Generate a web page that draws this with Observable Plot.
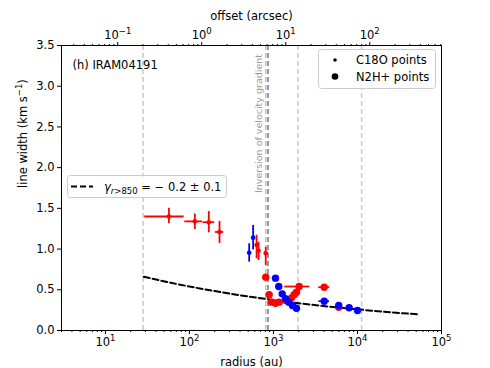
<!DOCTYPE html>
<html><head><meta charset="utf-8">
<script src="https://cdn.jsdelivr.net/npm/d3@7"></script>
<script src="https://cdn.jsdelivr.net/npm/@observablehq/plot@0.6"></script>
<style>
body{margin:0;background:#fff;font-family:"DejaVu Sans",sans-serif;}
#wrap{position:relative;width:490px;height:368px;overflow:hidden;}
#overlay{position:absolute;left:0;top:0;pointer-events:none;}
</style></head><body><div id="wrap"></div>
<script>
// ---- data ----
const panelTitle = "(h) IRAM04191";
const distancePc = 140;                       // offset (arcsec) = radius (au) / distance
const xTicksMajor = [10, 100, 1000, 10000, 100000];
const xTickLabels = ["10¹", "10²", "10³", "10⁴", "10⁵"];
const topTicksMajor = [0.1, 1, 10, 100];
const topTickLabels = ["10⁻¹", "10⁰", "10¹", "10²"];
const yTicks = [0, 0.5, 1, 1.5, 2, 2.5, 3, 3.5];

// C18O points (small markers)
const c18oRadius   = [57, 116, 170, 228, 514, 573, 630, 665, 809];
const c18oRadiusLo = [29.4, 88, 145, 204, 514, 573, 612, 650, 809];
const c18oRadiusHi = [86.5, 143, 200, 256, 514, 573, 648, 682, 809];
const c18oWidth    = [1.40, 1.34, 1.33, 1.21, 0.955, 1.14, 1.05, 0.98, 0.95];
const c18oWidthLo  = [1.31, 1.24, 1.20, 1.07, 0.84, 0.99, 0.88, 0.86, 0.80];
const c18oWidthHi  = [1.50, 1.43, 1.46, 1.34, 1.065, 1.29, 1.17, 1.085, 1.02];
const c18oSide     = ["red", "red", "red", "red", "blue", "blue", "red", "red", "red"];

// N2H+ points (large markers), redshifted side
const n2hRedRadius   = [809, 889, 947, 1057, 1169, 1400, 1637, 1763, 1878, 2022, 4018, 5980];
const n2hRedRadiusLo = [809, 889, 947, 1057, 1169, 1400, 1637, 1763, 1878, 1365, 3460, 5980];
const n2hRedRadiusHi = [809, 889, 947, 1057, 1169, 1400, 1637, 1763, 1878, 2710, 4680, 5980];
const n2hRedWidth    = [0.655, 0.44, 0.348, 0.335, 0.348, 0.368, 0.40, 0.44, 0.47, 0.54, 0.532, 0.286];
// N2H+ points, blueshifted side
const n2hBlueRadius   = [1057, 1156, 1270, 1390, 1521, 1683, 1878, 4018, 5980, 7960, 10000];
const n2hBlueRadiusLo = [1057, 1156, 1270, 1390, 1521, 1683, 1878, 3480, 5980, 7960, 10000];
const n2hBlueRadiusHi = [1057, 1156, 1270, 1390, 1521, 1683, 1878, 4650, 5980, 7960, 10000];
const n2hBlueWidth    = [0.643, 0.54, 0.45, 0.39, 0.348, 0.307, 0.274, 0.36, 0.307, 0.279, 0.246];

// fitted power law, gamma(r>850) = -0.2 +/- 0.1
const fitRadius = [28.6, 60, 100, 200, 400, 850, 2000, 5000, 10000, 20000, 51000];
const fitWidth  = [0.66, 0.586, 0.54, 0.484, 0.433, 0.385, 0.335, 0.29, 0.26, 0.231, 0.20];

// reference radii (vertical dashed lines)
const refRadius = [28, 1960, 11200];
const inversionRadius = [809];
const innerFitRadius = [860];

// ---- styles ----
const sideColor = {red: "#ff0000", blue: "#0000ff"};
const idx = a => a.map((_, i) => i);

const xMinor = [];
for (let k = 0; k <= 4; k++) for (let m = 2; m <= 9; m++) { const v = m * 10 ** k; if (v >= 3 && v <= 1e5) xMinor.push(v); }
const topTickValues = topTicksMajor.map(v => v * distancePc);
const topMinor = [];
for (let k = -2; k <= 2; k++) for (let m = 2; m <= 9; m++) { const v = m * 10 ** k * distancePc; if (v >= 3 && v <= 1e5) topMinor.push(v); }
const near = (arr, d) => arr.findIndex(v => Math.abs(v - d) / v < 1e-6);

const chart = Plot.plot({
  width: 490, height: 368,
  marginLeft: 61, marginRight: 49, marginTop: 45, marginBottom: 38,
  style: {fontFamily: "'DejaVu Sans', sans-serif", fontSize: "11.5px", color: "#000", background: "#fff", overflow: "visible"},
  x: {type: "log", domain: [3, 1e5]},
  y: {domain: [0, 3.5]},
  color: {type: "identity"},
  marks: [
    Plot.ruleX(refRadius, {x: d => d, stroke: "#c8c8c8", strokeWidth: 1.5, strokeDasharray: "5,3"}),
    Plot.ruleX(inversionRadius, {x: d => d, stroke: "#c0c0c0", strokeWidth: 1.5, strokeDasharray: "5,3"}),
    Plot.ruleX(innerFitRadius, {x: d => d, stroke: "#777", strokeWidth: 1.5, strokeDasharray: "5,3"}),
    Plot.line(idx(fitRadius), {x: i => fitRadius[i], y: i => fitWidth[i], stroke: "#000", strokeWidth: 2, strokeDasharray: "6,3", curve: "monotone-x"}),
    // C18O error bars + markers
    Plot.ruleY(idx(c18oRadius), {y: i => c18oWidth[i], x1: i => c18oRadiusLo[i], x2: i => c18oRadiusHi[i], stroke: i => sideColor[c18oSide[i]], strokeWidth: 1.8}),
    Plot.ruleX(idx(c18oRadius), {x: i => c18oRadius[i], y1: i => c18oWidthLo[i], y2: i => c18oWidthHi[i], stroke: i => sideColor[c18oSide[i]], strokeWidth: 1.8}),
    Plot.dot(idx(c18oRadius), {x: i => c18oRadius[i], y: i => c18oWidth[i], r: 2.3, fill: i => sideColor[c18oSide[i]], stroke: null}),
    // N2H+ red
    Plot.ruleY(idx(n2hRedRadius), {y: i => n2hRedWidth[i], x1: i => n2hRedRadiusLo[i], x2: i => n2hRedRadiusHi[i], stroke: sideColor.red, strokeWidth: 1.8}),
    Plot.dot(idx(n2hRedRadius), {x: i => n2hRedRadius[i], y: i => n2hRedWidth[i], r: 3.7, fill: sideColor.red, stroke: null}),
    // N2H+ blue
    Plot.ruleY(idx(n2hBlueRadius), {y: i => n2hBlueWidth[i], x1: i => n2hBlueRadiusLo[i], x2: i => n2hBlueRadiusHi[i], stroke: sideColor.blue, strokeWidth: 1.8}),
    Plot.dot(idx(n2hBlueRadius), {x: i => n2hBlueRadius[i], y: i => n2hBlueWidth[i], r: 3.7, fill: sideColor.blue, stroke: null}),
    Plot.frame({stroke: "#000", strokeWidth: 1}),
    // axes
    Plot.axisX({ticks: xTicksMajor, tickFormat: d => xTickLabels[near(xTicksMajor, d)], tickSize: 4, tickPadding: 3, label: null}),
    Plot.axisX({ticks: xMinor, tickFormat: () => "", tickSize: 2, label: null}),
    Plot.axisX({anchor: "top", ticks: topTickValues, tickFormat: d => topTickLabels[near(topTickValues, d)], tickSize: 4, tickPadding: 3, label: null}),
    Plot.axisX({anchor: "top", ticks: topMinor, tickFormat: () => "", tickSize: 2, label: null}),
    Plot.axisY({ticks: yTicks, tickFormat: d3.format(".1f"), tickSize: 4, tickPadding: 3, label: null}),
    // axis titles + panel title
    Plot.text(["radius (au)"], {frameAnchor: "bottom", text: d => d, dy: 27, lineAnchor: "top"}),
    Plot.text(["offset (arcsec)"], {frameAnchor: "top", text: d => d, dy: -26, lineAnchor: "bottom"}),
    Plot.text(["line width (km s⁻¹)"], {frameAnchor: "left", text: d => d, rotate: -90, dx: -38}),
    Plot.text([panelTitle], {frameAnchor: "top-left", text: d => d, dx: 11, dy: 20, textAnchor: "start", lineAnchor: "middle"})
  ]
});
const wrap = document.getElementById("wrap");
wrap.appendChild(chart);

// render unicode superscripts as raised, smaller text (matplotlib mathtext look)
const supMap = {"⁻": "−", "⁰": "0", "¹": "1", "²": "2", "³": "3", "⁴": "4", "⁵": "5"};
const supRe = /[⁻⁰¹²³⁴⁵]+/;
chart.querySelectorAll("text").forEach(t => {
  const s = t.textContent;
  const m = s.match(supRe);
  if (!m) return;
  const before = s.slice(0, m.index), sup = [...m[0]].map(c => supMap[c]).join(""), after = s.slice(m.index + m[0].length);
  while (t.firstChild) t.removeChild(t.firstChild);
  t.appendChild(document.createTextNode(before));
  const ts = document.createElementNS("http://www.w3.org/2000/svg", "tspan");
  ts.setAttribute("dy", "-5"); ts.setAttribute("font-size", "8.5"); ts.textContent = sup;
  t.appendChild(ts);
  if (after) {
    const ta = document.createElementNS("http://www.w3.org/2000/svg", "tspan");
    ta.setAttribute("dy", "5"); ta.textContent = after;
    t.appendChild(ta);
  }
});

// overlay: rotated annotation (positioned with the chart's x scale) and legends
const xs = chart.scale("x");
const invX = xs.apply(inversionRadius[0]) - 7;
const ns = "http://www.w3.org/2000/svg";
const ov = document.createElementNS(ns, "svg");
ov.setAttribute("id", "overlay"); ov.setAttribute("width", 490); ov.setAttribute("height", 368);
ov.innerHTML = `
<g font-family="DejaVu Sans, sans-serif" font-size="11.5">
  <text transform="translate(${invX},54) rotate(-90)" text-anchor="end" dominant-baseline="central" font-size="9.5" fill="#999">Inversion of velocity gradient</text>
  <rect x="318.5" y="49.5" width="117" height="39" rx="3" fill="#fff" fill-opacity="0.8" stroke="#cccccc"/>
  <circle cx="335" cy="60" r="1.8" fill="#000"/>
  <text x="356" y="64">C18O points</text>
  <circle cx="335" cy="76.5" r="3.3" fill="#000"/>
  <text x="356" y="80.5">N2H+ points</text>
  <rect x="67.5" y="175.5" width="159" height="22" rx="3" fill="#fff" fill-opacity="0.8" stroke="#cccccc"/>
  <line x1="71" y1="186.5" x2="93" y2="186.5" stroke="#000" stroke-width="2" stroke-dasharray="6,3"/>
  <text x="104" y="190.5"><tspan font-style="italic">γ</tspan><tspan font-size="8.5" dy="3" font-style="italic">r</tspan><tspan font-size="8.5">&gt;850</tspan><tspan dy="-3"> = − 0.2 ± 0.1</tspan></text>
</g>`;
wrap.appendChild(ov);
</script></body></html>
